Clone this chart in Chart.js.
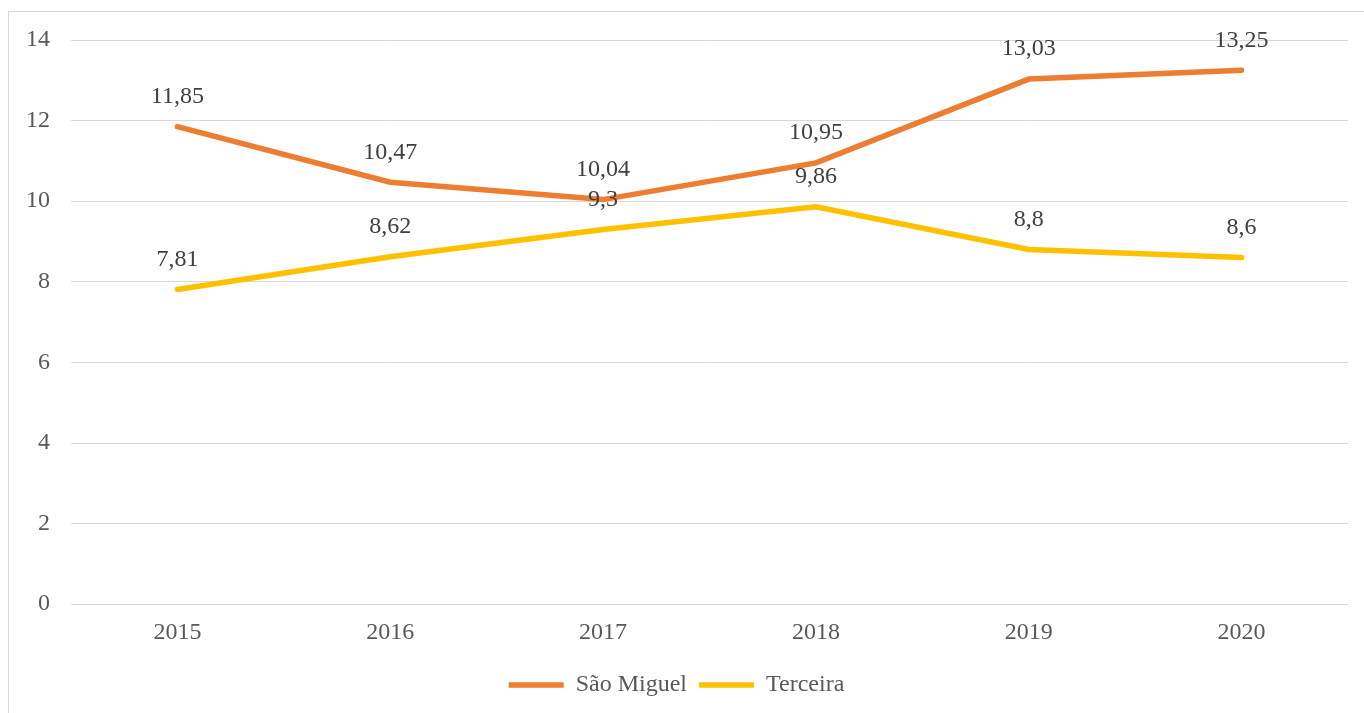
<!DOCTYPE html>
<html>
<head>
<meta charset="utf-8">
<script src="https://cdn.jsdelivr.net/npm/chart.js@4"></script>
<style>
  html, body { margin: 0; padding: 0; background: #fff; overflow: hidden; }
  #frame {
    position: absolute; left: 8px; top: 11px; width: 1400px; height: 760px;
    border: 1px solid #d9d9d9; box-sizing: border-box;
  }
  #chartBox { position: absolute; left: 0; top: 0; width: 1364px; height: 713px; }
</style>
</head>
<body>
<div id="frame"></div>
<div id="chartBox"><canvas id="chart" width="1364" height="713"></canvas></div>
<script>
const years = ['2015', '2016', '2017', '2018', '2019', '2020'];
const saoMiguel = [11.85, 10.47, 10.04, 10.95, 13.03, 13.25];
const terceira = [7.81, 8.62, 9.3, 9.86, 8.8, 8.6];
const yTicks = [0, 2, 4, 6, 8, 10, 12, 14];

const fontFamily = "'Liberation Serif', 'Times New Roman', serif";

// values above each point, comma as decimal separator
const valueLabels = {
  id: 'valueLabels',
  afterDatasetsDraw(chart) {
    const ctx = chart.ctx;
    ctx.save();
    ctx.font = `24px ${fontFamily}`;
    ctx.fillStyle = '#404040';
    ctx.textAlign = 'center';
    ctx.textBaseline = 'middle';
    chart.data.datasets.forEach((ds, i) => {
      const meta = chart.getDatasetMeta(i);
      meta.data.forEach((pt, j) => {
        const txt = String(ds.data[j]).replace('.', ',');
        ctx.fillText(txt, pt.x, pt.y - 30);
      });
    });
    ctx.restore();
  }
};

new Chart(document.getElementById('chart'), {
  type: 'line',
  data: {
    labels: years,
    datasets: [
      {
        label: 'São Miguel',
        data: saoMiguel,
        borderColor: '#ED7D31',
        backgroundColor: '#ED7D31',
        borderWidth: 5.5,
        borderCapStyle: 'round',
        pointRadius: 0,
        tension: 0
      },
      {
        label: 'Terceira',
        data: terceira,
        borderColor: '#FFC000',
        backgroundColor: '#FFC000',
        borderWidth: 5.5,
        borderCapStyle: 'round',
        pointRadius: 0,
        tension: 0
      }
    ]
  },
  options: {
    responsive: false,
    animation: false,
    layout: { padding: { left: 5, right: 16, top: 40, bottom: 6 } },
    plugins: {
      tooltip: { enabled: false },
      legend: {
        position: 'bottom',
        labels: {
          usePointStyle: true,
          pointStyle: 'line',
          pointStyleWidth: 55,
          color: '#595959',
          font: { family: fontFamily, size: 24 },
          padding: 12
        }
      }
    },
    scales: {
      x: {
        offset: true,
        grid: { display: false, drawTicks: false },
        border: { display: false },
        ticks: {
          color: '#595959',
          font: { family: fontFamily, size: 24 },
          padding: 14
        }
      },
      y: {
        min: 0,
        max: 14,
        afterBuildTicks(axis) { axis.ticks = yTicks.map(v => ({ value: v })); },
        grid: { color: '#d9d9d9', lineWidth: 1, drawTicks: false },
        border: { display: false },
        ticks: {
          color: '#595959',
          font: { family: fontFamily, size: 24 },
          padding: 21
        }
      }
    }
  },
  plugins: [valueLabels]
});
</script>
</body>
</html>
